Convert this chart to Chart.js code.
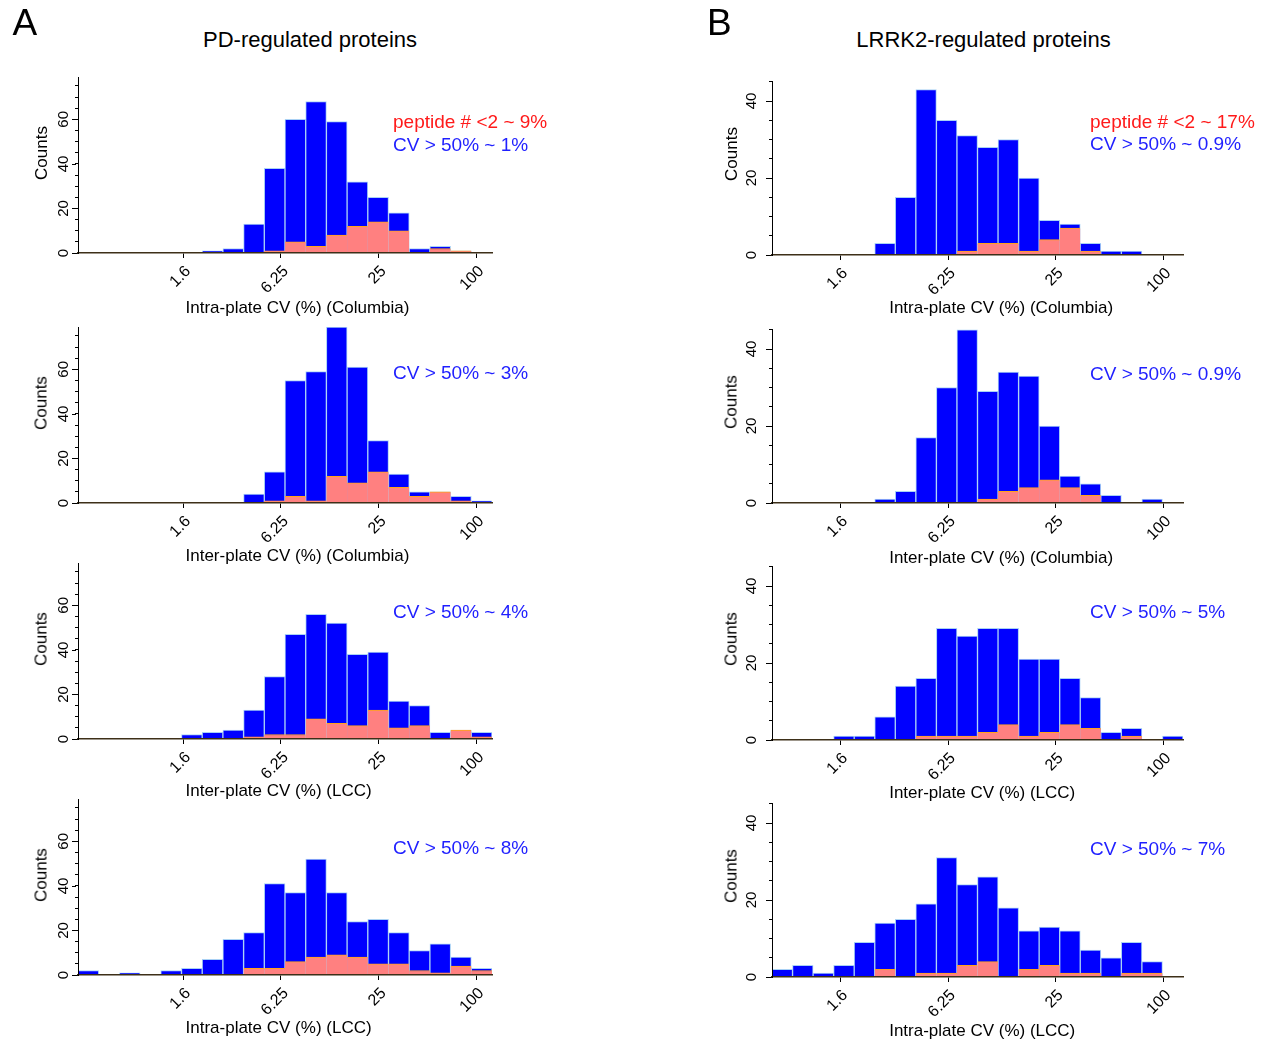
<!DOCTYPE html>
<html>
<head>
<meta charset="utf-8">
<script src="https://cdn.jsdelivr.net/npm/chart.js@4.4.1/dist/chart.umd.min.js"></script>
<style>
  html, body { margin: 0; padding: 0; background: #fff; }
  body { width: 1268px; height: 1041px; position: relative; overflow: hidden;
         font-family: "Liberation Sans", Arial, Helvetica, sans-serif; }
  .t { position: absolute; white-space: nowrap; line-height: 1; color: #000; }
  canvas { position: absolute; }
</style>
</head>
<body>
<script>
// ---------------- DATA ----------------
// 20 histogram bins (log-spaced CV classes) per panel
const binLabels = ['1','2','3','4','5','6','7','8','9','10','11','12','13','14','15','16','17','18','19','20'];

// x-axis tick positions (CV %) and their printed labels
const xTickValues = [1.5625, 6.25, 25, 100];
const xTickLabels = ['1.6', '6.25', '25', '100'];

// CV (%) at the two ends of each column's x axis
const cvRangePD = [0.351, 124.7];
const cvRangeLRRK2 = [0.649, 128.5];

// y axis upper limits (counts)
const yMaxPD = 79;
const yMaxLRRK2 = 45.2;

// PD-regulated proteins: all proteins (blue) and proteins with peptide # < 2 (salmon)
const pdIntraColTotal  = [0,0,0,0,0,0,1,2,13,38,60,68,59,32,25,18,2,3,1,0];
const pdIntraColLowPep = [0,0,0,0,0,0,0,0,0,1,5,3,8,12,14,10,0,2,1,0];
const pdInterColTotal  = [0,0,0,0,0,0,0,0,4,14,55,59,79,61,28,13,5,5,3,1];
const pdInterColLowPep = [0,0,0,0,0,0,0,0,0,1,3,1,12,9,14,7,3,5,1,0];
const pdInterLccTotal  = [0,0,0,0,0,2,3,4,13,28,47,56,52,38,39,17,15,3,4,3];
const pdInterLccLowPep = [0,0,0,0,0,0,0,0,1,2,2,9,7,6,13,5,6,0,4,1];
const pdIntraLccTotal  = [2,0,1,0,2,3,7,16,19,41,37,52,37,24,25,19,11,14,8,3];
const pdIntraLccLowPep = [0,0,0,0,0,0,0,0,3,3,6,8,9,8,5,5,2,1,4,2];

// LRRK2-regulated proteins
const lrIntraColTotal  = [0,0,0,0,0,3,15,43,35,31,28,30,20,9,8,3,1,1,0,0];
const lrIntraColLowPep = [0,0,0,0,0,0,0,0,0,1,3,3,1,4,7,1,0,0,0,0];
const lrInterColTotal  = [0,0,0,0,0,1,3,17,30,45,29,34,33,20,7,5,2,0,1,0];
const lrInterColLowPep = [0,0,0,0,0,0,0,0,0,0,1,3,4,6,4,2,0,0,0,0];
const lrInterLccTotal  = [0,0,0,1,1,6,14,16,29,27,29,29,21,21,16,11,2,3,0,1];
const lrInterLccLowPep = [0,0,0,0,0,0,0,1,1,1,2,4,1,2,4,3,0,1,0,0];
const lrIntraLccTotal  = [2,3,1,3,9,14,15,19,31,24,26,18,12,13,12,7,5,9,4,0];
const lrIntraLccLowPep = [0,0,0,0,0,2,0,1,1,3,4,0,2,3,1,1,0,1,1,0];

// annotation texts
const pdNotes = [['peptide # <2 ~ 9%', 'CV > 50% ~ 1%'], ['CV > 50% ~ 3%'], ['CV > 50% ~ 4%'], ['CV > 50% ~ 8%']];
const lrNotes = [['peptide # <2 ~ 17%', 'CV > 50% ~ 0.9%'], ['CV > 50% ~ 0.9%'], ['CV > 50% ~ 5%'], ['CV > 50% ~ 7%']];
const xTitles = ['Intra-plate CV (%) (Columbia)', 'Inter-plate CV (%) (Columbia)', 'Inter-plate CV (%) (LCC)', 'Intra-plate CV (%) (LCC)'];

// ---------------- LAYOUT / STYLE ----------------
const FONT = '"Liberation Sans", Arial, Helvetica, sans-serif';
Chart.defaults.font.family = FONT;
Chart.defaults.color = '#000';

const BLUE = '#0000ff', BLUE_EDGE = '#a9d1f5', SALMON = '#ff8080', SALMON_EDGE = '#ffa31a';
const NOTE_RED = '#ff1a1a', NOTE_BLUE = '#1f1fff';

const columns = {
  A: { left: 78, right: 492, range: cvRangePD, yMax: yMaxPD, yPad: 3, countsX: 41, xTitleLeft: 185.5, noteLeft: 393 },
  B: { left: 772, right: 1183, range: cvRangeLRRK2, yMax: yMaxLRRK2, yPad: 9, countsX: 731, xTitleLeft: 889.2, noteLeft: 1090 }
};

const panels = [
  { col: 'A', top: 77,  bottom: 253, total: pdIntraColTotal, low: pdIntraColLowPep, title: xTitles[0], titleY: 306.7, notes: pdNotes[0], noteY: [120.5, 144] },
  { col: 'A', top: 327, bottom: 503, total: pdInterColTotal, low: pdInterColLowPep, title: xTitles[1], titleY: 555,   notes: pdNotes[1], noteY: [372] },
  { col: 'A', top: 563, bottom: 739, total: pdInterLccTotal, low: pdInterLccLowPep, title: xTitles[2], titleY: 790,   notes: pdNotes[2], noteY: [610.5] },
  { col: 'A', top: 799, bottom: 975, total: pdIntraLccTotal, low: pdIntraLccLowPep, title: xTitles[3], titleY: 1026.7, notes: pdNotes[3], noteY: [847] },
  { col: 'B', top: 77,  bottom: 255, total: lrIntraColTotal, low: lrIntraColLowPep, title: xTitles[0], titleY: 306.7, notes: lrNotes[0], noteY: [120.8, 143.3] },
  { col: 'B', top: 325, bottom: 503, total: lrInterColTotal, low: lrInterColLowPep, title: xTitles[1], titleY: 556.7, notes: lrNotes[1], noteY: [373] },
  { col: 'B', top: 562, bottom: 740, total: lrInterLccTotal, low: lrInterLccLowPep, title: xTitles[2], titleY: 791.7, notes: lrNotes[2], noteY: [611.3] },
  { col: 'B', top: 799, bottom: 977, total: lrIntraLccTotal, low: lrIntraLccLowPep, title: xTitles[3], titleY: 1030,  notes: lrNotes[3], noteY: [848] }
];

function addText(str, x, y, size, opt = {}) {
  const d = document.createElement('div');
  d.className = 't';
  d.textContent = str;
  d.style.left = x + 'px';
  d.style.top = y + 'px';
  d.style.fontSize = size + 'px';
  if (opt.color) d.style.color = opt.color;
  if (opt.ls) d.style.letterSpacing = opt.ls + 'px';
  let tf = opt.anchor === 'left' ? 'translate(0,-50%)' : 'translate(-50%,-50%)';
  if (opt.rotate) tf += ' rotate(' + opt.rotate + 'deg)';
  d.style.transform = tf;
  document.body.appendChild(d);
}

// longer major ticks on the y axis (every 20 counts)
const majorTicks = {
  id: 'majorTicks',
  afterDraw(chart) {
    const s = chart.scales.y, c = chart.ctx;
    c.save();
    c.strokeStyle = '#000';
    c.lineWidth = 1;
    s.ticks.forEach(t => {
      if (t.value % 20 === 0) {
        const y = Math.round(s.getPixelForValue(t.value)) + 0.5;
        c.beginPath();
        c.moveTo(s.right - 6, y);
        c.lineTo(s.right - 2, y);
        c.stroke();
      }
    });
    c.restore();
  }
};

const nz = arr => arr.map(v => (v === 0 ? null : v));

function makePanel(p) {
  const col = columns[p.col];
  const yW = 70, padT = 14, padR = 14, xH = 50;
  const plotW = col.right - col.left, plotH = p.bottom - p.top;
  const cv = document.createElement('canvas');
  cv.width = yW + plotW + padR;
  cv.height = padT + plotH + xH;
  cv.style.left = (col.left - yW) + 'px';
  cv.style.top = (p.top - padT) + 'px';
  document.body.appendChild(cv);

  new Chart(cv, {
    type: 'bar',
    data: {
      labels: binLabels,
      datasets: [
        { data: nz(p.low), backgroundColor: SALMON, borderColor: SALMON_EDGE,
          borderWidth: { top: 1, left: 0, right: 0, bottom: 0 }, order: 0,
          grouped: false, barPercentage: 1, categoryPercentage: 1 },
        { data: nz(p.total), backgroundColor: BLUE, borderColor: BLUE_EDGE,
          borderWidth: 1, order: 1,
          grouped: false, barPercentage: 1, categoryPercentage: 1 }
      ]
    },
    options: {
      responsive: false,
      animation: false,
      devicePixelRatio: 1,
      events: [],
      layout: { padding: { left: 0, top: padT, right: padR, bottom: 0 } },
      plugins: { legend: { display: false }, tooltip: { enabled: false } },
      scales: {
        x: { type: 'category', display: false, offset: true },
        xLog: {
          type: 'linear', axis: 'x', position: 'bottom', offset: false,
          min: Math.log10(col.range[0]), max: Math.log10(col.range[1]),
          afterBuildTicks: s => { s.ticks = xTickValues.map(v => ({ value: Math.log10(v) })); },
          afterFit: s => { s.height = xH; },
          ticks: { autoSkip: false, minRotation: 45, maxRotation: 45, padding: 4, labelOffset: 5,
                   color: '#000', font: { size: 16 },
                   callback: (v, i) => xTickLabels[i] },
          grid: { offset: false, drawOnChartArea: false, drawTicks: true, tickLength: 5, color: '#000' },
          border: { display: true, color: '#3d2f18', width: 1.5, z: 1 }
        },
        y: {
          min: 0, max: col.yMax, position: 'left',
          afterFit: s => { s.width = yW; },
          ticks: { stepSize: 5, includeBounds: false, autoSkip: false,
                   minRotation: 90, maxRotation: 90, crossAlign: 'center',
                   padding: col.yPad, color: '#000', font: { size: 15 },
                   callback: v => (v % 20 === 0 ? String(v) : '') },
          grid: { drawOnChartArea: false, drawTicks: true, tickLength: 3, color: '#000' },
          border: { display: true, color: '#000', width: 1, z: 1 }
        }
      }
    },
    plugins: [majorTicks]
  });

  // axis titles and annotations
  addText('Counts', col.countsX, (p.top + p.bottom) / 2 - 12.5, 17, { rotate: -90 });
  addText(p.title, col.xTitleLeft, p.titleY, 17, { anchor: 'left' });
  p.notes.forEach((n, i) => {
    const isPep = n.indexOf('peptide') === 0;
    addText(n, col.noteLeft, p.noteY[i], 19, { anchor: 'left', color: isPep ? NOTE_RED : NOTE_BLUE });
  });
}

panels.forEach(makePanel);

// panel letters and column titles
addText('A', 12.5, 21.7, 37, { anchor: 'left' });
addText('B', 707, 21.7, 37, { anchor: 'left' });
addText('PD-regulated proteins', 310, 40, 22);
addText('LRRK2-regulated proteins', 983.5, 40, 22);
</script>
</body>
</html>
